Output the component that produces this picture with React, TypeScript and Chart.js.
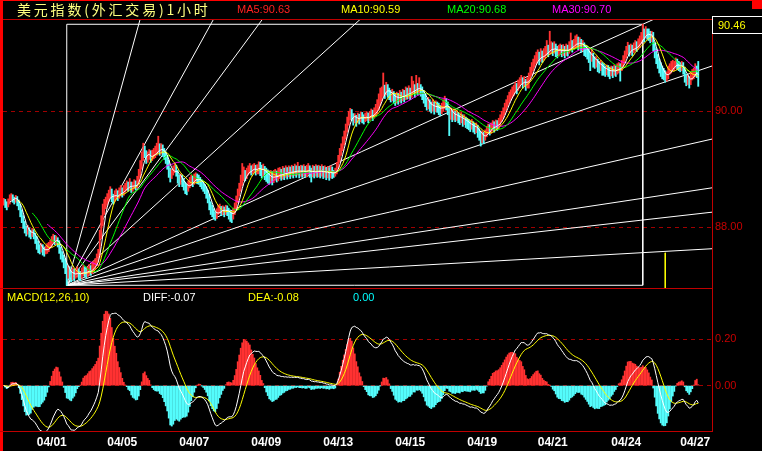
import React, { useEffect, useRef } from 'react';
import { Chart, registerables } from 'chart.js';

Chart.register(...registerables);

// Hourly bars, US dollar index
const firstOpen = 88.42;
const closes = [
  88.45, 88.40, 88.38, 88.44, 88.50, 88.53, 88.49, 88.47, 88.50, 88.44,
  88.36, 88.25, 88.15, 88.05, 87.96, 87.92, 87.95, 87.90, 87.88, 87.92,
  87.86, 87.80, 87.72, 87.66, 87.62, 87.65, 87.60, 87.58, 87.61, 87.63,
  87.68, 87.72, 87.76, 87.80, 87.77, 87.79, 87.74, 87.62, 87.55, 87.48,
  87.40, 87.32, 87.22, 87.28, 87.20, 87.16, 87.22, 87.18, 87.21, 87.24,
  87.19, 87.16, 87.22, 87.26, 87.23, 87.20, 87.24, 87.27, 87.25, 87.31,
  87.34, 87.38, 87.45, 87.52, 87.88, 88.10, 88.30, 88.38, 88.45, 88.50,
  88.56, 88.60, 88.52, 88.48, 88.55, 88.58, 88.54, 88.60, 88.62, 88.60,
  88.64, 88.68, 88.72, 88.70, 88.75, 88.67, 88.70, 88.74, 88.72, 88.78,
  88.90, 89.05, 89.20, 89.35, 89.28, 89.18, 89.22, 89.26, 89.20, 89.24,
  89.27, 89.30, 89.34, 89.38, 89.32, 89.36, 89.30, 89.25, 89.20, 89.12,
  88.98, 88.88, 88.95, 88.99, 89.03, 88.96, 88.85, 88.80, 88.84, 88.80,
  88.74, 88.68, 88.66, 88.72, 88.78, 88.81, 88.79, 88.83, 88.86, 88.84,
  88.82, 88.78, 88.74, 88.70, 88.66, 88.60, 88.52, 88.40, 88.32, 88.28,
  88.22, 88.18, 88.25, 88.30, 88.32, 88.28, 88.30, 88.26, 88.31, 88.29,
  88.24, 88.20, 88.18, 88.26, 88.35, 88.45, 88.58, 88.66, 88.78, 88.86,
  88.92, 88.88, 88.95, 88.98, 89.02, 88.97, 89.00, 89.03, 88.98, 89.01,
  89.04, 89.00, 88.96, 88.99, 88.94, 88.90, 88.88, 88.85, 88.87, 88.84,
  88.88, 88.90, 88.87, 88.91, 88.93, 88.90, 88.94, 88.92, 88.95, 88.93,
  88.96, 88.94, 88.97, 88.95, 88.98, 88.96, 88.99, 88.95, 88.97, 88.96,
  88.98, 88.95, 88.97, 89.00, 88.96, 88.92, 88.97, 88.95, 88.98, 88.96,
  88.97, 88.95, 88.98, 88.94, 88.96, 88.93, 88.95, 88.92, 88.96, 88.94,
  88.92, 88.95, 89.05, 89.15, 89.28, 89.35, 89.46, 89.55, 89.68, 89.80,
  89.90, 89.97, 89.93, 89.86, 89.89, 89.84, 89.90, 89.87, 89.92, 89.89,
  89.86, 89.90, 89.92, 89.88, 89.93, 89.96, 89.92, 89.98, 90.02, 90.08,
  90.15, 90.25, 90.30, 90.38, 90.33, 90.40, 90.35, 90.30, 90.26, 90.29,
  90.24, 90.20, 90.25, 90.22, 90.27, 90.24, 90.29, 90.26, 90.31, 90.30,
  90.33, 90.30, 90.36, 90.40, 90.35, 90.42, 90.38, 90.41, 90.36, 90.32,
  90.25, 90.18, 90.12, 90.15, 90.10, 90.07, 90.11, 90.05, 90.09, 90.08,
  90.04, 90.01, 90.06, 90.10, 90.14, 90.12, 90.05, 89.96, 89.98, 89.93,
  89.95, 89.91, 89.94, 89.89, 89.86, 89.90, 89.84, 89.86, 89.81, 89.79,
  89.77, 89.74, 89.78, 89.73, 89.70, 89.72, 89.65, 89.60, 89.55, 89.58,
  89.54, 89.60, 89.66, 89.70, 89.68, 89.72, 89.76, 89.73, 89.77, 89.76,
  89.80, 89.86, 89.92, 89.98, 90.05, 90.12, 90.18, 90.24, 90.28, 90.33,
  90.36, 90.42, 90.38, 90.46, 90.50, 90.55, 90.48, 90.52, 90.45, 90.50,
  90.58, 90.66, 90.74, 90.80, 90.86, 90.92, 90.95, 90.90, 90.96, 90.93,
  90.98, 91.02, 91.06, 91.03, 91.08, 91.10, 91.06, 91.09, 91.04, 91.02,
  91.05, 91.08, 91.03, 91.06, 91.02, 91.07, 91.05, 91.10, 91.14, 91.12,
  91.15, 91.18, 91.20, 91.16, 91.18, 91.12, 91.14, 91.08, 91.05, 91.02,
  90.96, 90.92, 90.97, 90.88, 90.84, 90.86, 90.80, 90.77, 90.80, 90.74,
  90.72, 90.69, 90.73, 90.70, 90.67, 90.71, 90.68, 90.72, 90.70, 90.74,
  90.76, 90.72, 90.80, 90.86, 90.95, 91.02, 91.08, 91.04, 91.07, 91.05,
  91.10, 91.13, 91.12, 91.16, 91.20, 91.26, 91.34, 91.30, 91.36, 91.33,
  91.32, 91.28, 91.30, 91.12, 91.00, 90.90, 90.82, 90.76, 90.70, 90.66,
  90.62, 90.58, 90.60, 90.70, 90.73, 90.77, 90.78, 90.78, 90.84, 90.80,
  90.78, 90.76, 90.78, 90.72, 90.58, 90.54, 90.55, 90.50, 90.60, 90.63,
  90.66, 90.73, 90.67, 90.46,
];
const highs = [
  88.50, 88.48, 88.44, 88.49, 88.56, 88.58, 88.56, 88.52, 88.55, 88.53,
  88.47, 88.40, 88.30, 88.20, 88.10, 88.02, 88.03, 87.99, 87.95, 87.98,
  87.96, 87.90, 87.84, 87.76, 87.70, 87.72, 87.70, 87.66, 87.68, 87.72,
  87.74, 87.78, 87.84, 87.88, 87.86, 87.85, 87.82, 87.77, 87.66, 87.58,
  87.52, 87.45, 87.36, 87.34, 87.32, 87.25, 87.30, 87.28, 87.28, 87.32,
  87.28, 87.24, 87.30, 87.34, 87.32, 87.30, 87.32, 87.36, 87.34, 87.40,
  87.42, 87.46, 87.54, 87.62, 87.95, 88.20, 88.40, 88.48, 88.52, 88.58,
  88.64, 88.70, 88.66, 88.57, 88.63, 88.66, 88.63, 88.68, 88.72, 88.68,
  88.72, 88.76, 88.80, 88.78, 88.84, 88.78, 88.78, 88.82, 88.80, 88.88,
  89.00, 89.15, 89.30, 89.45, 89.40, 89.32, 89.30, 89.34, 89.32, 89.33,
  89.36, 89.40, 89.45, 89.57, 89.44, 89.44, 89.42, 89.36, 89.30, 89.24,
  89.16, 89.02, 89.00, 89.06, 89.10, 89.07, 88.98, 88.90, 88.92, 88.90,
  88.84, 88.78, 88.74, 88.80, 88.86, 88.90, 88.88, 88.92, 88.94, 88.92,
  88.90, 88.86, 88.82, 88.78, 88.74, 88.70, 88.64, 88.56, 88.44, 88.38,
  88.32, 88.26, 88.32, 88.38, 88.40, 88.36, 88.37, 88.35, 88.38, 88.37,
  88.33, 88.30, 88.26, 88.33, 88.42, 88.54, 88.66, 88.76, 88.90, 89.10,
  89.04, 88.98, 89.02, 89.06, 89.10, 89.06, 89.08, 89.10, 89.07, 89.08,
  89.13, 89.12, 89.07, 89.09, 89.05, 89.02, 88.99, 88.97, 88.98, 88.96,
  88.98, 89.00, 88.97, 89.02, 89.03, 89.00, 89.05, 89.02, 89.06, 89.03,
  89.06, 89.04, 89.07, 89.05, 89.09, 89.06, 89.12, 89.05, 89.07, 89.06,
  89.08, 89.05, 89.07, 89.10, 89.06, 89.02, 89.07, 89.05, 89.08, 89.06,
  89.07, 89.05, 89.08, 89.05, 89.06, 89.03, 89.05, 89.03, 89.06, 89.04,
  88.98, 89.02, 89.12, 89.24, 89.36, 89.44, 89.56, 89.66, 89.78, 89.90,
  90.00, 90.05, 90.03, 89.96, 89.96, 89.93, 89.97, 89.95, 89.99, 89.98,
  89.94, 89.97, 89.99, 89.97, 90.00, 90.04, 90.02, 90.06, 90.12, 90.20,
  90.30, 90.40, 90.42, 90.66, 90.45, 90.50, 90.46, 90.40, 90.36, 90.38,
  90.34, 90.30, 90.33, 90.31, 90.36, 90.33, 90.38, 90.36, 90.42, 90.40,
  90.44, 90.40, 90.60, 90.52, 90.46, 90.62, 90.48, 90.58, 90.46, 90.42,
  90.36, 90.30, 90.22, 90.24, 90.20, 90.16, 90.20, 90.16, 90.18, 90.16,
  90.14, 90.10, 90.14, 90.20, 90.26, 90.22, 90.16, 90.08, 90.06, 90.02,
  90.04, 90.00, 90.02, 89.98, 89.94, 89.98, 89.94, 89.94, 89.90, 89.88,
  89.86, 89.83, 89.86, 89.82, 89.79, 89.80, 89.76, 89.70, 89.66, 89.66,
  89.64, 89.68, 89.74, 89.78, 89.77, 89.80, 89.84, 89.82, 89.85, 89.84,
  89.88, 89.94, 90.00, 90.06, 90.14, 90.20, 90.27, 90.33, 90.37, 90.42,
  90.45, 90.50, 90.48, 90.54, 90.58, 90.62, 90.58, 90.60, 90.55, 90.58,
  90.66, 90.76, 90.84, 90.90, 90.96, 91.02, 91.06, 91.02, 91.08, 91.04,
  91.08, 91.12, 91.22, 91.14, 91.38, 91.20, 91.18, 91.20, 91.16, 91.12,
  91.14, 91.16, 91.14, 91.15, 91.12, 91.16, 91.14, 91.20, 91.35, 91.22,
  91.24, 91.30, 91.32, 91.28, 91.27, 91.24, 91.22, 91.18, 91.14, 91.12,
  91.08, 91.02, 91.06, 91.00, 90.94, 90.94, 90.90, 90.86, 90.88, 90.84,
  90.82, 90.78, 90.80, 90.79, 90.76, 90.78, 90.77, 90.80, 90.78, 90.82,
  90.84, 90.82, 90.88, 90.96, 91.04, 91.12, 91.19, 91.14, 91.16, 91.14,
  91.18, 91.22, 91.20, 91.25, 91.30, 91.36, 91.50, 91.42, 91.46, 91.42,
  91.42, 91.38, 91.38, 91.36, 91.18, 91.08, 90.98, 90.90, 90.84, 90.78,
  90.74, 90.70, 90.68, 90.78, 90.82, 90.86, 90.88, 90.86, 90.92, 90.90,
  90.86, 90.84, 90.86, 90.84, 90.76, 90.64, 90.62, 90.60, 90.68, 90.72,
  90.74, 90.82, 90.78, 90.86,
];
const lows = [
  88.38, 88.34, 88.30, 88.35, 88.40, 88.47, 88.43, 88.40, 88.43, 88.37,
  88.30, 88.18, 88.08, 87.98, 87.90, 87.85, 87.88, 87.83, 87.80, 87.84,
  87.80, 87.72, 87.62, 87.56, 87.54, 87.57, 87.52, 87.50, 87.54, 87.55,
  87.58, 87.64, 87.67, 87.72, 87.70, 87.71, 87.66, 87.55, 87.45, 87.40,
  87.30, 87.20, 87.00, 87.12, 87.10, 87.06, 87.10, 87.08, 87.12, 87.14,
  87.10, 87.08, 87.12, 87.16, 87.15, 87.12, 87.15, 87.18, 87.17, 87.20,
  87.24, 87.28, 87.34, 87.40, 87.48, 87.80, 88.02, 88.22, 88.32, 88.38,
  88.44, 88.50, 88.44, 88.40, 88.44, 88.48, 88.46, 88.50, 88.54, 88.52,
  88.55, 88.60, 88.63, 88.62, 88.66, 88.60, 88.62, 88.66, 88.64, 88.68,
  88.74, 88.86, 89.00, 89.15, 89.20, 89.10, 89.12, 89.17, 89.12, 89.15,
  89.18, 89.20, 89.24, 89.28, 89.24, 89.26, 89.22, 89.17, 89.10, 89.00,
  88.86, 88.78, 88.84, 88.90, 88.94, 88.88, 88.76, 88.70, 88.74, 88.70,
  88.64, 88.58, 88.56, 88.62, 88.68, 88.72, 88.70, 88.74, 88.77, 88.75,
  88.74, 88.70, 88.66, 88.62, 88.58, 88.50, 88.42, 88.30, 88.22, 88.18,
  88.14, 88.12, 88.15, 88.22, 88.24, 88.20, 88.22, 88.18, 88.22, 88.20,
  88.14, 88.10, 88.08, 88.14, 88.22, 88.32, 88.42, 88.54, 88.62, 88.72,
  88.80, 88.80, 88.84, 88.90, 88.93, 88.90, 88.92, 88.94, 88.90, 88.92,
  88.92, 88.89, 88.85, 88.88, 88.82, 88.79, 88.76, 88.74, 88.77, 88.73,
  88.77, 88.81, 88.78, 88.80, 88.84, 88.81, 88.83, 88.82, 88.86, 88.83,
  88.87, 88.84, 88.88, 88.85, 88.89, 88.86, 88.90, 88.85, 88.88, 88.86,
  88.88, 88.86, 88.87, 88.91, 88.86, 88.78, 88.87, 88.85, 88.88, 88.86,
  88.87, 88.85, 88.88, 88.84, 88.86, 88.82, 88.85, 88.81, 88.85, 88.84,
  88.86, 88.88, 88.92, 89.02, 89.12, 89.24, 89.32, 89.42, 89.52, 89.64,
  89.76, 89.85, 89.84, 89.76, 89.80, 89.74, 89.80, 89.78, 89.82, 89.80,
  89.78, 89.82, 89.84, 89.80, 89.84, 89.88, 89.84, 89.88, 89.92, 89.96,
  90.02, 90.10, 90.18, 90.26, 90.22, 90.28, 90.24, 90.20, 90.16, 90.18,
  90.14, 90.10, 90.14, 90.12, 90.16, 90.14, 90.18, 90.16, 90.20, 90.21,
  90.22, 90.20, 90.24, 90.30, 90.24, 90.30, 90.28, 90.30, 90.26, 90.20,
  90.14, 90.08, 90.02, 90.04, 90.00, 89.97, 90.00, 89.95, 89.99, 89.98,
  89.94, 89.92, 89.96, 90.00, 90.04, 90.02, 89.94, 89.58, 89.86, 89.82,
  89.85, 89.82, 89.84, 89.80, 89.77, 89.80, 89.74, 89.77, 89.72, 89.70,
  89.68, 89.65, 89.69, 89.64, 89.61, 89.63, 89.55, 89.50, 89.40, 89.46,
  89.44, 89.50, 89.56, 89.61, 89.59, 89.62, 89.66, 89.64, 89.68, 89.67,
  89.70, 89.76, 89.82, 89.88, 89.94, 90.02, 90.08, 90.14, 90.19, 90.23,
  90.27, 90.32, 90.30, 90.36, 90.40, 90.46, 90.40, 90.43, 90.36, 90.40,
  90.40, 90.54, 90.62, 90.70, 90.76, 90.82, 90.86, 90.80, 90.86, 90.84,
  90.88, 90.92, 90.96, 90.94, 90.98, 91.00, 90.96, 91.00, 90.94, 90.92,
  90.95, 90.98, 90.94, 90.96, 90.92, 90.96, 90.95, 91.00, 91.04, 91.02,
  91.06, 91.08, 91.10, 91.06, 91.08, 91.02, 91.04, 90.96, 90.94, 90.90,
  90.84, 90.70, 90.86, 90.76, 90.74, 90.76, 90.68, 90.66, 90.70, 90.62,
  90.62, 90.60, 90.63, 90.60, 90.56, 90.61, 90.58, 90.62, 90.60, 90.64,
  90.66, 90.52, 90.70, 90.76, 90.84, 90.92, 90.98, 90.95, 90.98, 90.96,
  91.01, 91.04, 91.03, 91.07, 91.10, 91.16, 91.24, 91.20, 91.26, 91.24,
  91.22, 91.18, 91.20, 91.04, 90.92, 90.82, 90.74, 90.66, 90.60, 90.56,
  90.54, 90.50, 90.52, 90.56, 90.64, 90.66, 90.70, 90.70, 90.74, 90.72,
  90.70, 90.68, 90.70, 90.64, 90.50, 90.44, 90.46, 90.40, 90.46, 90.54,
  90.56, 90.60, 90.58, 90.43,
];

const title = '美元指数(外汇交易)1小时';
const maPeriods = [5, 10, 20, 30];
const maLineColors = ['#ffffff', '#ffff00', '#00ff00', '#ff00ff'];
const maTextColors = ['#ff2020', '#ffff00', '#00ff00', '#ff00ff'];
const maTextX = [237, 341, 447, 552];

// Gann fan angles, as multiples of the low-to-high slope
const fanRatios = [8, 4, 3, 2, 1, 0.75, 0.5, 1 / 3, 0.25, 0.125];

const macdFast = 12;
const macdSlow = 26;
const macdSignal = 10;

const dateLabels = ['04/01', '04/05', '04/07', '04/09', '04/13', '04/15', '04/19', '04/21', '04/24', '04/27'];
const dateLabelBars = [32, 79, 127, 175, 223, 271, 319, 366, 415, 461];

const priceTicks = [88, 90];
const macdTicks = [0, 0.2];

const markerBar = 441;
const markerTop = 87.56;

// ---- derived series ----
const N = closes.length;
const opens = closes.map((c, i) => (i === 0 ? firstOpen : closes[i - 1]));

function movingAverage(period: number) {
  const pts: { x: number; y: number }[] = [];
  let sum = 0;
  for (let i = 0; i < N; i++) {
    sum += closes[i];
    if (i >= period) sum -= closes[i - period];
    if (i >= period - 1) pts.push({ x: i, y: sum / period });
  }
  return pts;
}

function ema(values: number[], period: number) {
  const k = 2 / (period + 1);
  const out: number[] = [];
  let e = values[0];
  values.forEach((v, i) => {
    e = i === 0 ? v : e + k * (v - e);
    out.push(e);
  });
  return out;
}

const emaFast = ema(closes, macdFast);
const emaSlow = ema(closes, macdSlow);
const diff = closes.map((_, i) => emaFast[i] - emaSlow[i]);
const dea = ema(diff, macdSignal);
const macdHist = diff.map((d, i) => 2 * (d - dea[i]));

// layout constants
const W = 762;
const H = 451;
const PANEL_TOP = 19;
const LEFT_PAD = 3;
const AXIS_W = 50;
const XAXIS_H = 20;
const BAR_STEP = 1.5;
const plotWidth = W - LEFT_PAD - AXIS_W;
const xMin = -0.5;
const xMax = xMin + plotWidth / BAR_STEP;
const priceMin = 86.953;
const priceMax = 91.591;
const macdMin = -0.195;
const macdMax = 0.419;

export default function App() {
  const canvasRef = useRef<HTMLCanvasElement | null>(null);

  useEffect(() => {
    const canvas = canvasRef.current;
    if (!canvas) return;

    const maSeries = maPeriods.map((p) => movingAverage(p));

    let iLow = 0;
    let iHigh = 0;
    for (let i = 1; i < N; i++) {
      if (lows[i] < lows[iLow]) iLow = i;
      if (highs[i] > highs[iHigh]) iHigh = i;
    }
    const loMin = lows[iLow];
    const hiMax = highs[iHigh];
    const unitSlope = (hiMax - loMin) / (iHigh - iLow);

    const upColor = '#ff3232';
    const downColor = '#54fcfc';

    const candleData = closes.map((c, i) => {
      const o = opens[i];
      return { x: i, y: [Math.min(lows[i], o, c), Math.max(highs[i], o, c)] };
    });
    const candleColors = closes.map((c, i) => (c >= opens[i] ? upColor : downColor));

    const lineBase = {
      type: 'line' as const,
      pointRadius: 0,
      pointHoverRadius: 0,
      borderWidth: 1,
      tension: 0,
      fill: false,
    };

    const datasets: any[] = [];

    maSeries.forEach((pts, k) => {
      datasets.push({ ...lineBase, data: pts, borderColor: maLineColors[k], yAxisID: 'y', order: 0 });
    });

    datasets.push({
      type: 'bar',
      data: candleData,
      backgroundColor: candleColors,
      borderWidth: 0,
      barThickness: 1.2,
      grouped: false,
      yAxisID: 'y',
      order: 1,
    });

    fanRatios.forEach((r) => {
      const s = r * unitSlope;
      datasets.push({
        ...lineBase,
        data: [
          { x: iLow, y: loMin },
          { x: xMax, y: loMin + s * (xMax - iLow) },
        ],
        borderColor: '#ffffff',
        yAxisID: 'y',
        order: 2,
      });
    });

    datasets.push({
      ...lineBase,
      data: [
        { x: iLow, y: loMin },
        { x: iLow, y: hiMax },
        { x: iHigh, y: hiMax },
        { x: iHigh, y: loMin },
        { x: iLow, y: loMin },
      ],
      borderColor: '#ffffff',
      yAxisID: 'y',
      order: 2,
    });

    datasets.push({
      ...lineBase,
      data: [
        { x: markerBar, y: markerTop },
        { x: markerBar, y: priceMin },
      ],
      borderColor: '#ffff00',
      yAxisID: 'y',
      order: 2,
    });

    datasets.push({
      ...lineBase,
      data: diff.map((v, i) => ({ x: i, y: v })),
      borderColor: '#ffffff',
      yAxisID: 'm',
      order: 0,
    });
    datasets.push({
      ...lineBase,
      data: dea.map((v, i) => ({ x: i, y: v })),
      borderColor: '#ffff00',
      yAxisID: 'm',
      order: 0,
    });
    datasets.push({
      type: 'bar',
      data: macdHist.map((v, i) => ({ x: i, y: v })),
      backgroundColor: macdHist.map((v) => (v >= 0 ? upColor : downColor)),
      borderWidth: 0,
      barThickness: 1.2,
      grouped: false,
      yAxisID: 'm',
      order: 1,
    });

    const sansFont = '"Liberation Sans", Arial, sans-serif';

    const framePlugin = {
      id: 'frame',
      beforeDraw(chart: any) {
        const { ctx } = chart;
        ctx.save();
        ctx.fillStyle = '#000000';
        ctx.fillRect(0, 0, W, H);
        ctx.restore();
      },
      afterDraw(chart: any) {
        const { ctx, chartArea } = chart;
        const yScale = chart.scales.y;
        const right = chartArea.right;
        ctx.save();

        // frame
        ctx.fillStyle = '#ff0000';
        ctx.fillRect(0, 0, 3, H);
        ctx.fillRect(0, 0, W, 1);
        ctx.fillRect(752, 0, 10, 9);
        ctx.fillStyle = '#c00000';
        ctx.fillRect(3, chartArea.top, right - 3, 1);
        ctx.fillRect(0, Math.round(yScale.bottom), right, 1);
        ctx.fillRect(0, chartArea.bottom, right + 1, 1);
        ctx.fillRect(right, chartArea.top, 1, chartArea.bottom - chartArea.top);

        // title and moving average readouts
        ctx.textBaseline = 'middle';
        ctx.textAlign = 'left';
        ctx.font = '14px "Noto Sans CJK SC", sans-serif';
        ctx.fillStyle = '#ffff80';
        (ctx as any).letterSpacing = '2.8px';
        ctx.fillText(title, 17, 10);
        (ctx as any).letterSpacing = '0px';

        ctx.font = '11px ' + sansFont;
        maPeriods.forEach((p, k) => {
          const pts = maSeries[k];
          const last = pts[pts.length - 1].y;
          ctx.fillStyle = maTextColors[k];
          ctx.fillText('MA' + p + ':' + last.toFixed(2), maTextX[k], 10);
        });

        // MACD readouts
        const yMacd = 297.5;
        ctx.fillStyle = '#ffff00';
        ctx.fillText('MACD(' + macdFast + ',' + macdSlow + ',' + macdSignal + ')', 7, yMacd);
        ctx.fillStyle = '#ffffff';
        ctx.fillText('DIFF:' + diff[N - 1].toFixed(2), 143, yMacd);
        ctx.fillStyle = '#ffff00';
        ctx.fillText('DEA:' + dea[N - 1].toFixed(2), 248, yMacd);
        ctx.fillStyle = '#00ffff';
        ctx.fillText(macdHist[N - 1].toFixed(2), 353, yMacd);

        // last price box
        ctx.strokeStyle = '#ffffff';
        ctx.lineWidth = 1;
        ctx.strokeRect(right + 0.5, 16.5, W - right, 17);
        ctx.fillStyle = '#ffff00';
        ctx.fillText(closes[N - 1].toFixed(2), right + 6, 25.5);

        ctx.restore();
      },
    };

    const yAxisCommon = {
      type: 'linear' as const,
      position: 'right' as const,
      stack: 'panels',
      bounds: 'data' as const,
      grid: { color: '#a00000', lineWidth: 1, drawTicks: false, drawOnChartArea: true },
      border: { display: false, dash: [4, 4] },
      ticks: {
        color: '#c80000',
        font: { size: 11, family: sansFont },
        padding: 3,
        autoSkip: false,
        callback: (v: number) => Number(v).toFixed(2),
      },
      afterFit: (s: any) => {
        s.width = AXIS_W;
      },
    };

    const chart = new Chart(canvas, {
      type: 'bar',
      data: { datasets },
      plugins: [framePlugin],
      options: {
        animation: false,
        responsive: false,
        maintainAspectRatio: false,
        events: [],
        layout: { padding: { top: PANEL_TOP, left: LEFT_PAD, right: 0, bottom: 0 } },
        plugins: {
          legend: { display: false },
          tooltip: { enabled: false },
          title: { display: false },
        },
        scales: {
          x: {
            type: 'linear',
            min: xMin,
            max: xMax,
            offset: false,
            bounds: 'data',
            grid: { display: false, drawTicks: false },
            border: { display: false },
            afterBuildTicks: (s: any) => {
              s.ticks = dateLabelBars.map((v) => ({ value: v }));
            },
            ticks: {
              autoSkip: false,
              maxRotation: 0,
              minRotation: 0,
              padding: 4,
              color: '#ffffff',
              font: { size: 12, weight: 'bold', family: sansFont },
              callback: (_v: any, i: number) => dateLabels[i],
            },
            afterFit: (s: any) => {
              s.height = XAXIS_H;
            },
          },
          y: {
            ...yAxisCommon,
            min: priceMin,
            max: priceMax,
            stackWeight: 269,
            afterBuildTicks: (s: any) => {
              s.ticks = priceTicks.map((v) => ({ value: v }));
            },
          },
          m: {
            ...yAxisCommon,
            min: macdMin,
            max: macdMax,
            stackWeight: 143,
            afterBuildTicks: (s: any) => {
              s.ticks = macdTicks.map((v) => ({ value: v }));
            },
          },
        },
      } as any,
    });

    return () => {
      chart.destroy();
    };
  }, []);

  return (
    <div style={{ position: 'fixed', left: 0, top: 0, width: W, height: H, background: '#000' }}>
      <canvas ref={canvasRef} width={W} height={H} style={{ display: 'block' }} />
    </div>
  );
}
